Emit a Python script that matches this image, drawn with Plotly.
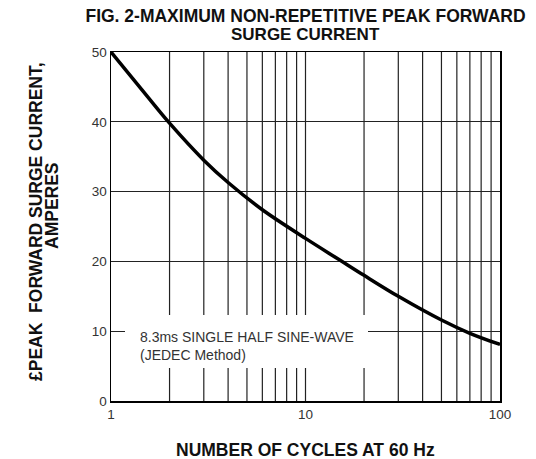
import plotly.graph_objects as go

cycles = [1, 1.5, 2, 3, 4, 6, 10, 15, 20, 30, 50, 70, 100]
current = [50, 44.0, 39.8, 34.5, 31.3, 27.4, 23.3, 20.2, 18.0, 15.0, 11.6, 9.7, 8.1]

x_ticks = [1, 10, 100]
x_grid = [2, 3, 4, 5, 6, 7, 8, 9, 10, 20, 30, 40, 50, 60, 70, 80, 90]
y_ticks = [0, 10, 20, 30, 40, 50]

FONT = "Liberation Sans, Arial, sans-serif"
W, H = 536, 459
L, T, PW, PH = 111, 52, 389, 349

def px(xp):
    return (xp - L) / PW

def py(yp):
    return (T + PH - yp) / PH

fig = go.Figure()
fig.add_trace(go.Scatter(x=cycles, y=current, mode="lines",
                         line=dict(color="black", width=3.5, shape="spline", smoothing=1.0),
                         showlegend=False, hoverinfo="skip"))

fig.update_layout(
    width=W, height=H,
    margin=dict(l=L, r=W - L - PW, t=T, b=H - T - PH),
    paper_bgcolor="white", plot_bgcolor="white",
    font=dict(family=FONT, color="#333333", size=13),
    title=dict(text="<b>FIG. 2-MAXIMUM NON-REPETITIVE PEAK FORWARD</b>",
               xref="paper", x=0.5, xanchor="center", yref="container", y=1 - 15.5 / H, yanchor="middle",
               font=dict(size=17.5, color="#111111", family=FONT)),
    xaxis=dict(type="log", range=[0, 2], tickvals=x_ticks, ticktext=[str(v) for v in x_ticks],
               showgrid=False, zeroline=False, showline=True, linecolor="black", linewidth=1.5,
               mirror=True, ticks="", tickfont=dict(size=13.5, color="#333333")),
    yaxis=dict(range=[0, 50], tickvals=y_ticks, showgrid=True, gridcolor="#222222", gridwidth=1.2,
               zeroline=False, showline=True, linecolor="black", linewidth=1.5, mirror=True,
               ticks="", tickfont=dict(size=13.5, color="#333333")),
    hovermode=False,
)

for gx in x_grid:
    fig.add_shape(type="line", xref="x", yref="paper", x0=gx, x1=gx, y0=0, y1=1,
                  line=dict(color="#222222", width=1.2), layer="below")

fig.add_annotation(text="<b>SURGE CURRENT</b>", xref="paper", yref="paper",
                   x=0.5, y=py(34.5), xanchor="center", yanchor="middle", showarrow=False,
                   font=dict(size=17, color="#111111", family=FONT))

# white box behind the note
fig.add_shape(type="rect", xref="paper", yref="paper",
              x0=px(125), x1=px(368), y0=py(368), y1=py(315),
              fillcolor="white", line=dict(width=0), layer="above")
fig.add_annotation(text="8.3ms SINGLE HALF SINE-WAVE<br>(JEDEC Method)",
                   xref="paper", yref="paper", x=px(138), y=py(345.5),
                   xanchor="left", yanchor="middle", align="left", showarrow=False,
                   font=dict(size=14, color="#333333", family=FONT))

fig.add_annotation(text="<b>NUMBER OF CYCLES AT 60 Hz</b>", xref="paper", yref="paper",
                   x=0.5, y=py(450), xanchor="center", yanchor="middle",
                   showarrow=False, font=dict(size=17.5, color="#111111", family=FONT))
fig.add_annotation(text="<b>£PEAK  FORWARD SURGE CURRENT,</b>", xref="paper", yref="paper",
                   x=px(36), y=py(222), xanchor="center", yanchor="middle",
                   textangle=-90, showarrow=False, font=dict(size=17.5, color="#111111", family=FONT))
fig.add_annotation(text="<b>AMPERES</b>", xref="paper", yref="paper",
                   x=px(52), y=py(206), xanchor="center", yanchor="middle",
                   textangle=-90, showarrow=False, font=dict(size=17.5, color="#111111", family=FONT))

fig.write_html("out.html", config={"displayModeBar": False, "staticPlot": True},
               post_script="document.body.style.margin='0';document.body.style.overflow='hidden';")
